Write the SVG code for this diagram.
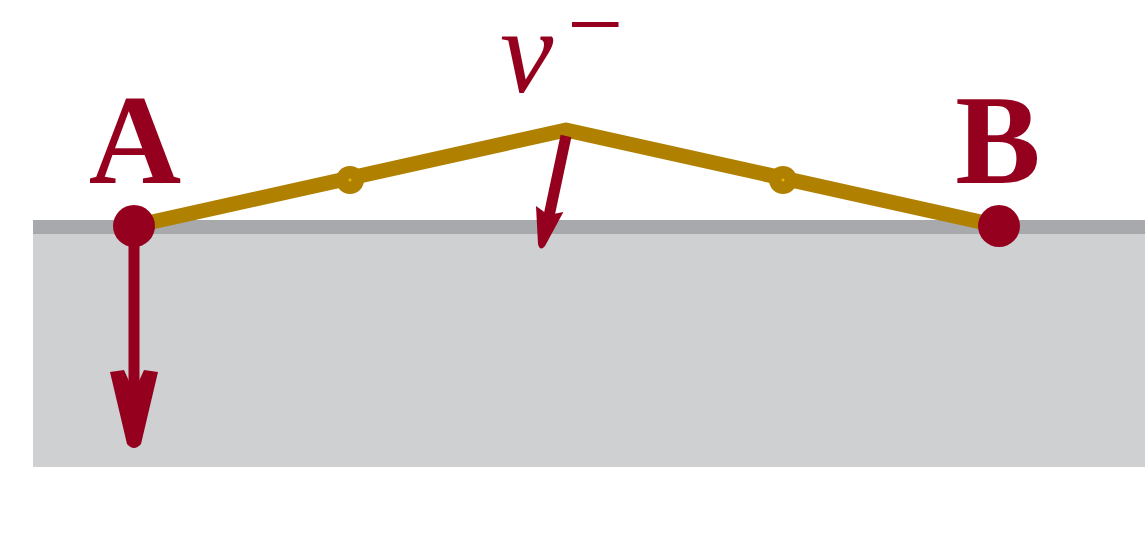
<svg xmlns="http://www.w3.org/2000/svg" width="1148" height="543" viewBox="0 0 1148 543">
<style>
.red{fill:#95001e}
.lbl{font-family:"Liberation Serif","DejaVu Serif",serif;fill:#95001e}
.bar{stroke:#b08000;stroke-width:15;fill:none;stroke-linejoin:round}
.arr{stroke:#95001e;stroke-width:11;fill:none}
</style>
<rect width="1148" height="543" fill="#ffffff"/>
<g id="ground">
<rect x="33" y="220" width="1112" height="247" fill="#cfd0d2"/>
<rect x="33" y="220" width="1112" height="14" fill="#a8a9ad"/>
</g>
<g id="connectors">
<polyline class="bar" points="134,226 566,130 999,226"/>
<line class="arr" x1="134" y1="226" x2="134" y2="400"/>
<path class="red" d="M110,372 L124,370 L134,392 L144,370 L158,372 L141,444 Q134,452 127,444 Z"/>
<line class="arr" x1="566" y1="136" x2="549" y2="216"/>
<path class="red" d="M536,206 L548.4,215 L563.4,212 L545,246 Q540,252 538,244 Z"/>
</g>
<g id="joint1"><circle cx="350" cy="180" r="14" fill="#b08000"/><circle cx="350" cy="180" r="1.5" fill="#e8b800"/></g>
<g id="joint2"><circle cx="783" cy="180" r="14" fill="#b08000"/><circle cx="783" cy="180" r="1.5" fill="#e8b800"/></g>
<g id="A"><circle cx="134" cy="226" r="21" class="red"/><text class="lbl" x="135" y="183" font-size="128" font-weight="bold" text-anchor="middle">A</text></g>
<g id="B"><circle cx="999" cy="226" r="21" class="red"/><text class="lbl" x="998" y="183" font-size="128" font-weight="bold" text-anchor="middle">B</text></g>
<g id="vminus"><text class="lbl" x="500" y="92" font-size="120" font-style="italic">v</text><text class="lbl" x="567" y="58" font-size="100">−</text></g>
</svg>
